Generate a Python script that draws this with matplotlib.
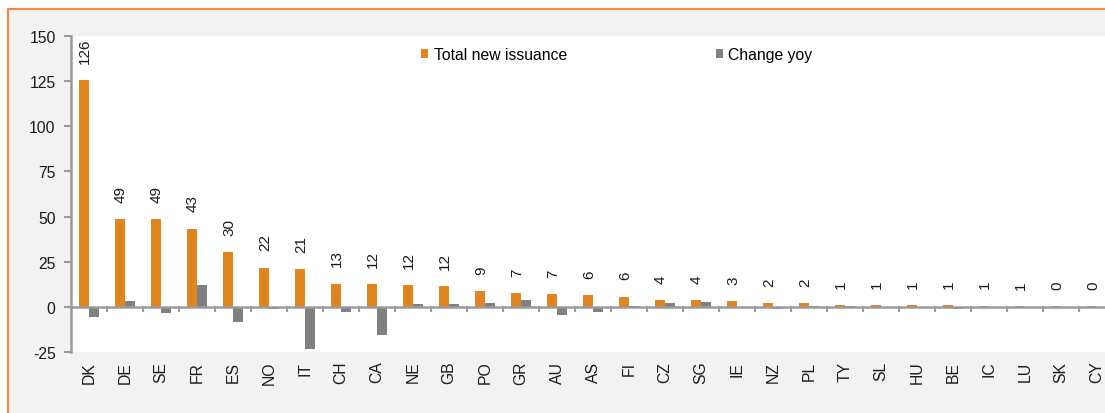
import matplotlib
matplotlib.use("Agg")
import matplotlib.pyplot as plt
import matplotlib.patches as mpatches
import numpy as np

countries = ["DK", "DE", "SE", "FR", "ES", "NO", "IT", "CH", "CA", "NE", "GB", "PO", "GR", "AU",
             "AS", "FI", "CZ", "SG", "IE", "NZ", "PL", "TY", "SL", "HU", "BE", "IC", "LU", "SK", "CY"]
total_new_issuance = [125.6, 48.7, 48.4, 43.3, 30.2, 21.7, 20.8, 12.8, 12.3, 11.9, 11.5, 8.6, 7.4, 7.0,
                      6.3, 5.6, 3.8, 3.6, 3.2, 2.1, 1.8, 1.0, 0.9, 0.8, 0.7, 0.6, 0.5, 0.2, 0.2]
change_yoy = [-5.5, 3.0, -3.5, 12.0, -8.5, -1.5, -23.5, -3.0, -16.0, 1.5, 1.5, 2.0, 3.5, -4.5,
              -3.0, 0.5, 2.0, 2.5, 0.0, -1.2, 0.5, 0.3, 0.0, 0.0, -1.5, 0.0, 0.0, 0.0, 0.0]
value_labels = ["126", "49", "49", "43", "30", "22", "21", "13", "12", "12", "12", "9", "7", "7",
                "6", "6", "4", "4", "3", "2", "2", "1", "1", "1", "1", "1", "1", "0", "0"]
yticks = [-25, 0, 25, 50, 75, 100, 125, 150]

ORANGE = "#E0851F"
GREY = "#808080"
AXCOL = "#9a9a9a"
BG = "#F2F2F2"
TXT = "#1a1a1a"
FS = 11.3

plt.rcParams["font.family"] = ["Liberation Sans", "DejaVu Sans"]

W, H = 1105, 414
fig = plt.figure(figsize=(W / 100, H / 100), dpi=100)
fig.patch.set_facecolor("white")

# gray panel with orange border (top/left visible)
border = mpatches.Rectangle((8 / W, -0.1), 1.2, (H - 10) / H + 0.1, transform=fig.transFigure,
                            facecolor=BG, edgecolor="#F5883A", linewidth=1.5, zorder=-10)
fig.patches.append(border)

left = 71 / W
bottom = (H - 352.7) / H
top = (H - 37.3) / H
width = 29 * 36 / W
ax = fig.add_axes([left, bottom, width, top - bottom])
ax.set_facecolor("white")

x = np.arange(len(countries))
bw = 0.28
ax.bar(x - 0.145, total_new_issuance, width=bw, color=ORANGE, label="Total new issuance", zorder=3)
ax.bar(x + 0.15, change_yoy, width=bw, color=GREY, label="Change yoy", zorder=3)

for xi, v, lab in zip(x, total_new_issuance, value_labels):
    ax.text(xi - 0.11, v + 9.5, lab, rotation=90, ha="center", va="bottom", fontsize=11, color=TXT)

ax.set_xlim(-0.5, len(countries) - 0.5)
ax.set_ylim(-25, 150)
ax.set_yticks(yticks)
ax.set_yticklabels([str(t) for t in yticks], fontsize=FS, color=TXT)

ax.axhline(0, color=AXCOL, linewidth=1.8, zorder=4)
for s in ["top", "right", "bottom"]:
    ax.spines[s].set_visible(False)
ax.spines["left"].set_color(AXCOL)
ax.spines["left"].set_linewidth(1.8)
ax.tick_params(axis="y", direction="out", length=5, width=1.5, color=AXCOL, pad=6)

ax.set_xticks(x)
ax.set_xticklabels(countries, rotation=90, fontsize=FS, color=TXT)
ax.tick_params(axis="x", length=0, pad=6.5)

# boundary tick marks below the zero line
for b in np.arange(0.5, len(countries) - 0.5, 1.0):
    ax.plot([b, b], [0, -2.4], color=AXCOL, linewidth=1.5, zorder=4, clip_on=False)

leg = fig.legend(*ax.get_legend_handles_labels(), loc="center left",
                 bbox_to_anchor=(421 / W, 1 - 55.5 / H), bbox_transform=fig.transFigure,
                 ncol=2, frameon=False, fontsize=FS, handlelength=0.45, handleheight=0.45,
                 handletextpad=0.35, columnspacing=9.5, borderpad=0, borderaxespad=0)

fig.savefig("out.png", dpi=100, facecolor=fig.get_facecolor())
